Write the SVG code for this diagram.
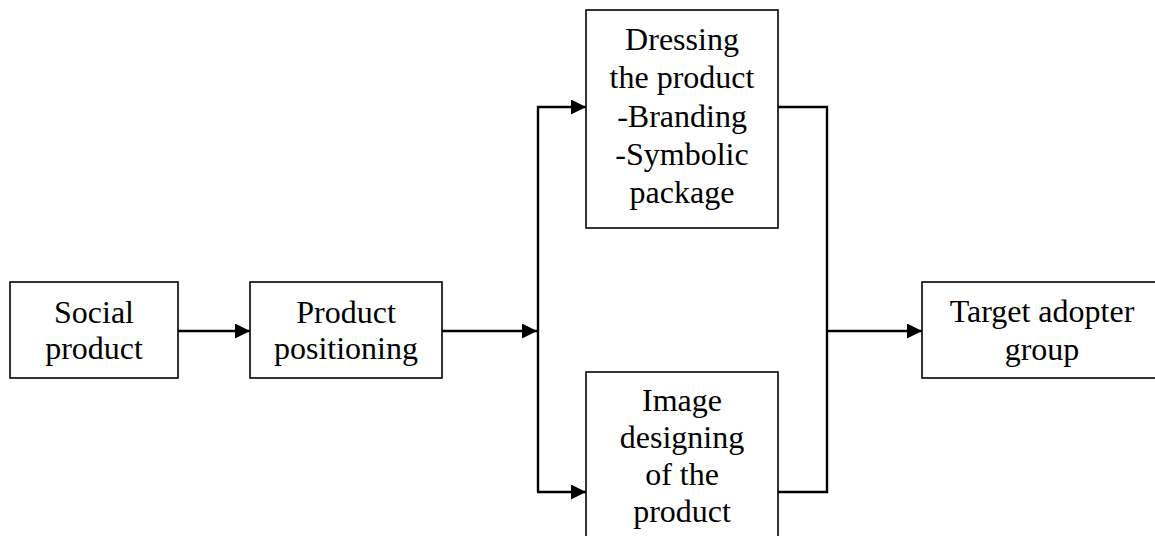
<svg xmlns="http://www.w3.org/2000/svg" width="1155" height="536" viewBox="0 0 1155 536">
<style>
.box{fill:#fff;stroke:#000;stroke-width:1.6}
.t{font-family:"Liberation Serif","Times New Roman",serif;font-size:32px;fill:#000;text-anchor:middle}
.c{fill:none;stroke:#000;stroke-width:2.4}
</style>
<defs>
<marker id="ah" markerWidth="15" markerHeight="15" refX="15" refY="7.5" orient="auto" markerUnits="userSpaceOnUse">
<path d="M0,0 L15,7.5 L0,15 Z" fill="#000"/>
</marker>
</defs>
<rect width="1155" height="536" fill="#fff"/>
<g id="connectors">
<line class="c" x1="178" y1="331" x2="250" y2="331" marker-end="url(#ah)"/>
<line class="c" x1="442" y1="331" x2="537" y2="331" marker-end="url(#ah)"/>
<line class="c" x1="538" y1="106" x2="538" y2="492"/>
<line class="c" x1="537" y1="107" x2="586" y2="107" marker-end="url(#ah)"/>
<line class="c" x1="537" y1="492" x2="586" y2="492" marker-end="url(#ah)"/>
<polyline class="c" points="778,107 827,107 827,492 778,492"/>
<line class="c" x1="827" y1="331" x2="922" y2="331" marker-end="url(#ah)"/>
</g>
<g id="social">
<rect class="box" x="10" y="282" width="168" height="96"/>
<text class="t" x="94" y="323">Social</text>
<text class="t" x="94" y="359">product</text>
</g>
<g id="positioning">
<rect class="box" x="250" y="282" width="192" height="96"/>
<text class="t" x="346" y="323">Product</text>
<text class="t" x="346" y="359">positioning</text>
</g>
<g id="dressing">
<rect class="box" x="586" y="10" width="192" height="218"/>
<text class="t" x="682" y="50">Dressing</text>
<text class="t" x="682" y="88">the product</text>
<text class="t" x="682" y="127">-Branding</text>
<text class="t" x="682" y="165">-Symbolic</text>
<text class="t" x="682" y="203">package</text>
</g>
<g id="image">
<rect class="box" x="586" y="372" width="192" height="180"/>
<text class="t" x="682" y="411">Image</text>
<text class="t" x="682" y="448">designing</text>
<text class="t" x="682" y="485">of the</text>
<text class="t" x="682" y="522">product</text>
</g>
<g id="target">
<rect class="box" x="922" y="282" width="250" height="96"/>
<text class="t" x="1042" y="322">Target adopter</text>
<text class="t" x="1042" y="360">group</text>
</g>
</svg>
